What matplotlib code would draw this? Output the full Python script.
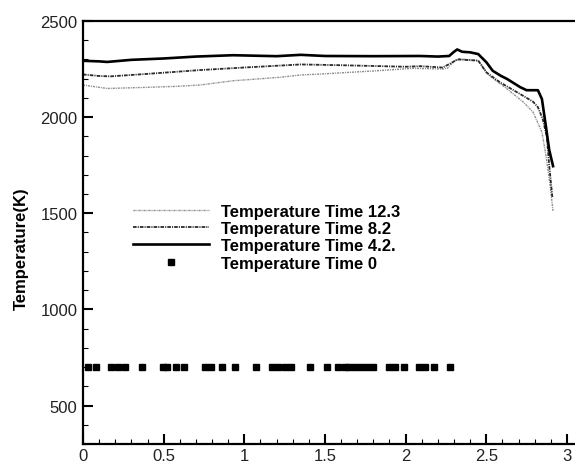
import matplotlib.pyplot as plt
from matplotlib.ticker import MultipleLocator

# Temperature profiles
x_t123 = [0, 0.1, 0.15, 0.4, 0.58, 0.725, 0.93, 1.22, 1.345, 1.47, 1.8, 2.05, 2.23,
          2.26, 2.30, 2.33, 2.45, 2.52, 2.63, 2.73, 2.79, 2.845, 2.87, 2.895, 2.914]
y_t123 = [2167, 2155, 2149, 2155, 2160, 2167, 2189, 2207, 2219, 2224, 2240, 2254, 2250,
          2255, 2290, 2303, 2294, 2215, 2146, 2078, 2026, 1922, 1800, 1650, 1510]

x_t82 = [0, 0.1, 0.17, 0.4, 0.73, 1.0, 1.35, 1.6, 2.0, 2.09, 2.23, 2.29, 2.32, 2.45,
         2.50, 2.585, 2.71, 2.79, 2.82, 2.85, 2.875, 2.89, 2.91]
y_t82 = [2222, 2214, 2212, 2225, 2245, 2258, 2274, 2270, 2262, 2265, 2258, 2285, 2300, 2294,
         2233, 2181, 2120, 2080, 2052, 1990, 1900, 1750, 1580]

x_t42 = [0, 0.1, 0.15, 0.3, 0.5, 0.7, 0.93, 1.2, 1.35, 1.5, 1.8, 2.09, 2.2, 2.27, 2.30,
         2.32, 2.35, 2.40, 2.45, 2.50, 2.54, 2.59, 2.63, 2.71, 2.75, 2.82, 2.845, 2.87,
         2.89, 2.914]
y_t42 = [2293, 2290, 2287, 2298, 2305, 2315, 2322, 2317, 2324, 2318, 2317, 2318, 2315, 2318,
         2340, 2352, 2340, 2337, 2328, 2286, 2241, 2215, 2198, 2156, 2140, 2140, 2094, 1950,
         1830, 1745]

x_t0 = [0.03, 0.08, 0.174, 0.217, 0.26, 0.366, 0.496, 0.521, 0.576, 0.626, 0.756, 0.793,
        0.862, 0.942, 1.072, 1.172, 1.209, 1.252, 1.289, 1.407, 1.512, 1.581, 1.624,
        1.649, 1.686, 1.723, 1.760, 1.797, 1.897, 1.934, 1.990, 2.083, 2.120, 2.176, 2.275]
y_t0 = [700] * len(x_t0)

labels = ['Temperature Time 12.3', 'Temperature Time 8.2',
          'Temperature Time 4.2.', 'Temperature Time 0']

plt.rcParams['font.family'] = ['Liberation Sans', 'DejaVu Sans']

fig = plt.figure(figsize=(5.75, 4.64), dpi=100)
ax = fig.add_axes([0.1443, 0.041, 0.8557, 0.9116])

ax.plot(x_t123, y_t123, color='#8c8c8c', lw=1.0, ls=(0, (1.5, 0.7, 0.7, 0.7)), label=labels[0])
ax.plot(x_t82, y_t82, color='#2a2a2a', lw=1.3, ls=(0, (2, 0.6, 0.6, 0.6)), label=labels[1])
ax.plot(x_t42, y_t42, color='black', lw=1.9, ls='-', label=labels[2])
ax.plot(x_t0, y_t0, ls='none', marker='s', ms=3.8, color='black', label=labels[3])

ax.set_xlim(0, 3.05)
ax.set_ylim(300, 2500)

ax.xaxis.set_minor_locator(MultipleLocator(0.1))
ax.yaxis.set_minor_locator(MultipleLocator(100))
ax.set_xticks([0, 0.5, 1, 1.5, 2, 2.5, 3])
ax.set_xticklabels(['0', '0.5', '1', '1.5', '2', '2.5', '3'])
ax.set_yticks([500, 1000, 1500, 2000, 2500])

ax.tick_params(which='major', direction='in', length=7.5, width=1.5, labelsize=12,
               colors='black', labelcolor='#222222', pad=4)
ax.tick_params(which='minor', direction='in', length=3.5, width=0.8)
ax.tick_params(axis='x', which='major', pad=3)

for side in ['top', 'left', 'bottom']:
    ax.spines[side].set_linewidth(1.6)
ax.spines['right'].set_visible(False)

ax.set_ylabel('Temperature(K)', fontsize=12, fontweight='bold')
ax.yaxis.set_label_coords(-0.11, 0.463)

leg = ax.legend(loc='upper left', bbox_to_anchor=(0.084, 0.588), frameon=False,
                prop={'weight': 'bold', 'size': 12}, handlelength=4.6,
                handletextpad=0.7, labelspacing=0.14, borderpad=0, markerscale=1.0)

fig.savefig('out.png', dpi=100)
